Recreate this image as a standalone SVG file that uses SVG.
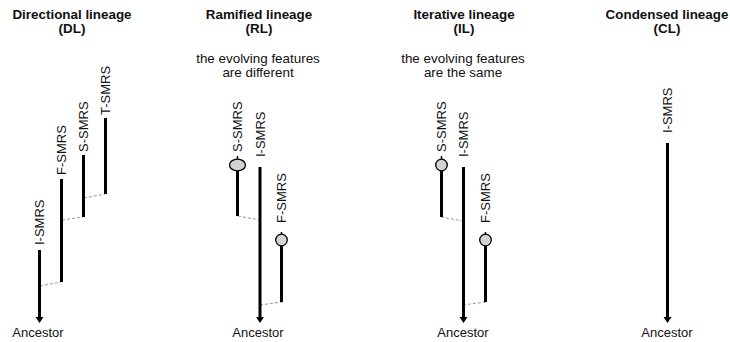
<svg xmlns="http://www.w3.org/2000/svg" width="730" height="342" viewBox="0 0 730 342">
<defs>
<style>
text{font-family:"Liberation Sans",Arial,sans-serif;fill:#111}
.t{font-size:13.4px;font-weight:bold;text-anchor:middle}
.s{font-size:13.4px;text-anchor:middle}
.a{font-size:13px;text-anchor:middle}
.l{font-size:13px;text-anchor:start}
.br{stroke:#000;stroke-width:3;fill:none}
.stub{stroke:#000;stroke-width:1.5;fill:none}
.cn{stroke:#999;stroke-width:1;stroke-dasharray:3,2;fill:none}
.nd{fill:#d3d3d3;stroke:#000;stroke-width:1.3}
.anc{fill:#000}
</style>
</defs>
<rect width="730" height="342" fill="#fff"/>

<!-- Titles -->
<g id="titles">
<text class="t" x="72" y="19">Directional lineage</text>
<text class="t" x="72" y="33">(DL)</text>
<text class="t" x="259" y="19">Ramified lineage</text>
<text class="t" x="259" y="33">(RL)</text>
<text class="s" x="258" y="63">the evolving features</text>
<text class="s" x="258" y="77">are different</text>
<text class="t" x="464" y="19">Iterative lineage</text>
<text class="t" x="464" y="33">(IL)</text>
<text class="s" x="463" y="63">the evolving features</text>
<text class="s" x="463" y="77">are the same</text>
<text class="t" x="667" y="19">Condensed lineage</text>
<text class="t" x="667" y="33">(CL)</text>
</g>

<!-- Connectors -->
<g id="connectors">
<line class="cn" x1="40" y1="286" x2="61" y2="282"/>
<line class="cn" x1="62" y1="220" x2="83" y2="217"/>
<line class="cn" x1="84" y1="198" x2="105" y2="194"/>
<line class="cn" x1="238" y1="216" x2="260" y2="220"/>
<line class="cn" x1="260" y1="305" x2="282" y2="302"/>
<line class="cn" x1="441" y1="217" x2="463" y2="221"/>
<line class="cn" x1="463" y1="305" x2="486" y2="302"/>
</g>

<!-- DL -->
<g id="dl-i-smrs">
<line class="br" x1="39.5" y1="250" x2="39.5" y2="318"/>
<polygon class="anc" points="35.5,317 43.5,317 39.5,323"/>
<text class="l" transform="translate(44,245) rotate(-90)">I-SMRS</text>
<text class="a" x="38" y="337">Ancestor</text>
</g>
<g id="dl-f-smrs">
<line class="br" x1="61.5" y1="179" x2="61.5" y2="282"/>
<text class="l" transform="translate(66,175) rotate(-90)">F-SMRS</text>
</g>
<g id="dl-s-smrs">
<line class="br" x1="83.5" y1="155" x2="83.5" y2="217"/>
<text class="l" transform="translate(88,152) rotate(-90)">S-SMRS</text>
</g>
<g id="dl-t-smrs">
<line class="br" x1="105.5" y1="118" x2="105.5" y2="194"/>
<text class="l" transform="translate(110,115) rotate(-90)">T-SMRS</text>
</g>

<!-- RL -->
<g id="rl-i-smrs">
<line class="br" x1="260" y1="167" x2="260" y2="318"/>
<polygon class="anc" points="256,317 264,317 260,323"/>
<text class="l" transform="translate(264.5,157) rotate(-90)">I-SMRS</text>
<text class="a" x="258" y="337">Ancestor</text>
</g>
<g id="rl-s-smrs">
<line class="stub" x1="237.5" y1="156" x2="237.5" y2="162"/>
<line class="br" x1="237.5" y1="166" x2="237.5" y2="216"/>
<ellipse class="nd" cx="237.5" cy="165" rx="8" ry="5.8"/>
<text class="l" transform="translate(242,152) rotate(-90)">S-SMRS</text>
</g>
<g id="rl-f-smrs">
<line class="stub" x1="281.5" y1="232" x2="281.5" y2="236"/>
<line class="br" x1="281.5" y1="240" x2="281.5" y2="302"/>
<circle class="nd" cx="281.5" cy="240" r="5.8"/>
<text class="l" transform="translate(286,223) rotate(-90)">F-SMRS</text>
</g>

<!-- IL -->
<g id="il-i-smrs">
<line class="br" x1="463.5" y1="167" x2="463.5" y2="318"/>
<polygon class="anc" points="459.5,317 467.5,317 463.5,323"/>
<text class="l" transform="translate(468,157) rotate(-90)">I-SMRS</text>
<text class="a" x="463" y="337">Ancestor</text>
</g>
<g id="il-s-smrs">
<line class="stub" x1="441.5" y1="156" x2="441.5" y2="161"/>
<line class="br" x1="441.5" y1="165" x2="441.5" y2="217"/>
<circle class="nd" cx="441.5" cy="165" r="5.8"/>
<text class="l" transform="translate(446,152) rotate(-90)">S-SMRS</text>
</g>
<g id="il-f-smrs">
<line class="stub" x1="485.5" y1="232" x2="485.5" y2="236"/>
<line class="br" x1="485.5" y1="240" x2="485.5" y2="302"/>
<circle class="nd" cx="485.5" cy="240" r="5.8"/>
<text class="l" transform="translate(490,223) rotate(-90)">F-SMRS</text>
</g>

<!-- CL -->
<g id="cl-i-smrs">
<line class="br" x1="667.5" y1="143" x2="667.5" y2="318"/>
<polygon class="anc" points="663.5,317 671.5,317 667.5,323"/>
<text class="l" transform="translate(672,133) rotate(-90)">I-SMRS</text>
<text class="a" x="667" y="337">Ancestor</text>
</g>
</svg>
